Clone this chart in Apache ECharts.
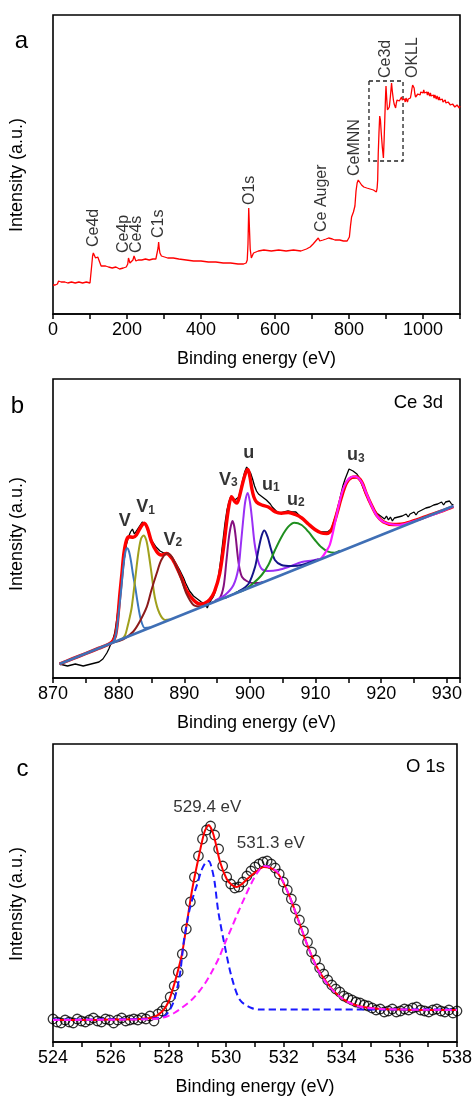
<!DOCTYPE html>
<html>
<head>
<meta charset="utf-8">
<script src="https://cdn.jsdelivr.net/npm/echarts@6.0.0/dist/echarts.min.js"></script>
<style>
  html, body { margin: 0; padding: 0; background: #fff; }
  #chart { width: 475px; height: 1101px; }
</style>
</head>
<body>
<div id="chart"></div>
<script>
// ---------- (a) survey spectrum: [binding energy (eV), intensity (a.u.)] ----------
const surveyPts = [
  [0,29],[3,30],[6,29],[9,28],[12,30],[15,33],[17,35],[19,34],[22,32],[26,31],[32,32],[40,31],
  [50,32],[60,31],[70,32],[80,31],[90,32],[100,31],[103,33],[105,50],[107,58],[109,61],[111,63],
  [113,59],[115,56],[117,55],[119,55],[121,57],[123,58],[125,55],[127,51],[130,48],[135,47],
  [142,48],[150,47],[160,46],[170,47],[180,45],[190,46],[198,47],[202,50],[204,56],[206,54],
  [208,51],[212,52],[216,54],[219,58],[221,56],[224,53],[230,54],[240,54],[250,55],[260,54],
  [270,55],[278,55],[282,57],[284,66],[285.5,72],[287,66],[289,61],[293,58],[298,57],[310,56],
  [325,56],[340,55],[360,54],[380,53],[400,53],[420,52],[440,52],[460,51],[480,51],[500,50],
  [515,50],[522,51],[525,54],[527,70],[529,106],[531,85],[533,65],[536,56],[539,58],[542,61],
  [546,63],[555,63],[570,64],[590,63],[610,64],[630,63],[650,64],[670,63],[685,65],[695,67],
  [703,70],[710,73],[717,76],[721,73],[725,72],[730,74],[738,75],[745,76],[750,77],[755,75],
  [762,74],[775,74],[785,73],[795,73],[801,77],[804,88],[807,97],[812,102],[816,108],[819,123],
  [822,131],[825,134],[828,132],[834,129],[840,127],[848,126],[857,125],[866,124],[874,122],
  [876,126],[877.5,134],[879,160],[881,181],[883,198],[885,194],[887,182],[890,167],[893,156],
  [895,175],[897,198],[899,220],[900,228],[902,215],[904,204],[906,205],[909,207],[912,218],
  [915,231],[917,223],[920,214],[922,210],[924,208],[926,206],[928,211],[930,214],[932,212],
  [934,216],[936,213],[938,215],[940,212],[942,217],[944,214],[946,216],[948,213],[950,215],
  [952,212],[954,216],[956,214],[958,212],[960,215],[962,213],[964,217],[966,216],[968,220],
  [970,225],[972,229],[974,230],[976,226],[978,220],[980,217],[982,219],[984,216],[986,220],
  [988,218],[990,221],[992,219],[994,222],[996,220],[998,223],[1000,221],[1002,224],[1004,221],
  [1006,223],[1008,220],[1010,222],[1012,219],[1014,222],[1016,220],[1018,218],[1020,221],
  [1022,218],[1024,220],[1026,217],[1028,219],[1030,216],[1032,219],[1034,217],[1036,215],
  [1038,218],[1040,216],[1042,214],[1044,217],[1046,214],[1048,216],[1050,213],[1052,215],
  [1054,212],[1056,214],[1058,211],[1060,214],[1062,211],[1064,213],[1066,210],[1068,212],
  [1070,210],[1072,212],[1074,209],[1076,211],[1078,208],[1080,210],[1082,208],[1084,210],
  [1086,207],[1088,209],[1090,207],[1092,209],[1094,207],[1096,208],[1098,206],[1100,208]
];
const surveyPeakNames = ['Ce4d', 'Ce4p', 'Ce4s', 'C1s', 'O1s', 'Ce Auger', 'CeMNN', 'Ce3d', 'OKLL'];
const surveyPeakE = [110.8, 192, 227, 286, 530, 727, 816, 900, 973];
const surveyPeakI = [67, 61, 61, 76, 109, 82, 138, 236, 236];
// Ce 3d window highlighted on the survey
const ce3dWindowE = [854, 946];
const ce3dWindowI = [153, 233];

// ---------- (b) Ce 3d high-resolution region ----------
const ce3dStartE = 871.0;
const ce3dStepE = 0.3;
const ce3dCounts = [
  14,15,13,14,12,14,13,11,14,12,
  13,15,12,14,13,15,14,16,15,17,
  16,18,19,22,25,29,34,38,45,58,
  74,90,106,121,134,141,146,149,144,147,
  149,153,156,154,152,146,141,137,134,131,
  129,127,128,125,126,124,123,121,119,115,
  113,108,106,100,95,91,87,85,82,80,
  79,77,76,75,74,70,75,78,81,86,
  94,106,121,138,155,168,176,182,183,178,
  176,181,189,198,206,211,210,205,199,192,
  187,184,183,181,180,178,177,174,171,169,
  167,166,165,164,166,165,167,166,166,165,
  166,164,162,160,158,157,155,153,151,150,
  148,147,146,144,146,144,146,146,149,155,
  161,168,176,185,193,199,204,209,211,207,
  206,204,201,196,191,186,182,177,174,170,
  168,165,164,162,161,159,162,158,161,157,
  160,158,161,159,162,160,164,161,164,162,
  166,163,166,165,168,166,170,168,171,169,
  173,171,174,172,176,173,176,174,177,174,
  173
];
const ce3dEnvelope = [
  [871,14],[873,19.3],[875,24.5],[877,29.8],[878.3,33.2],[879.0,36],[879.5,42],[879.8,55],[880.2,85],
  [880.5,104.7],[880.8,124.7],[881.2,138],[881.6,141.3],[882.2,140.7],[882.7,143],[883.4,151.3],
  [883.9,154.7],[884.4,149.7],[885.0,136.3],[885.8,126.3],[886.5,123],[887.3,124.5],[888.1,119.7],
  [888.8,111.3],[889.6,99.7],[890.3,88],[891.4,78],[892.4,74],[893.1,74.7],[893.9,78.7],[894.6,86.3],
  [895.4,104.7],[896.0,131.3],[896.7,168],[897.2,181.3],[897.7,176.3],[898.0,175],[898.3,179],
  [898.9,195],[899.4,206],[899.7,208.5],[900.0,201],[900.3,189],[900.6,181],[901.0,176],[901.8,173],
  [902.8,171],[903.8,166.3],[904.8,164.7],[905.85,165.5],[906.9,163.5],[907.9,160],[908.9,154],
  [909.9,148.5],[910.9,145],[911.7,144.5],[912.4,148],[913.2,163.5],[913.9,180],[914.7,195],
  [915.5,200.5],[916.2,201],[917.0,196.3],[917.7,184.7],[918.5,173],[919.3,163],[920.3,156.3],
  [921.8,153.5],[923.3,154],[925.3,158],[927.4,163],[929.4,167.3],[931,171.5]
];
const ce3dBackground = [[871,14],[931,172]];
const ce3dV = [[878.5,33.7],[879.2,36.5],[879.6,44],[880.0,65],[880.35,86],[880.7,110],[881.0,125],
  [881.3,129.7],[881.6,126],[881.9,116],[882.2,103],[882.5,92],[882.9,75],[883.4,58],[884.0,50],[884.8,50.5]];
const ce3dV1 = [[880.0,37.7],[880.6,39.5],[881.0,43],[881.3,50],[881.7,61],[882.0,71],[882.5,98],
  [883.0,125],[883.4,139],[883.8,142.5],[884.2,138],[884.5,128],[885.0,105],[885.5,81],[886.2,65],
  [887.1,58],[887.8,58.5]];
const ce3dV2 = [[879.0,35.3],[880.7,38.7],[882.2,46.3],[883.2,56.3],[884.3,71.3],[885.0,88],[885.8,104.7],
  [886.5,118],[887.4,124.7],[888.1,121.3],[888.8,111.3],[889.6,98],[890.3,84.7],[891.4,73],[892.6,71.5],[893.5,73.5]];
const ce3dV3 = [[894.0,74.8],[895.4,80],[896.0,92],[896.4,116],[896.75,138],[897.0,149],[897.33,157],
  [897.6,152],[897.85,140],[898.1,124],[898.4,110],[898.8,101],[899.5,97],[900.3,95],[901.3,95],[902.0,96]];
const ce3dU = [[894.7,77.5],[896.2,83],[897.5,93],[898.25,110],[898.6,132],[899.0,160],[899.3,177],
  [899.66,185],[900.0,176],[900.3,160],[900.7,135],[901.2,118],[901.8,109],[902.8,107],[904.3,108],
  [905.85,111],[907.9,116],[909.5,117.5],[910.5,119]];
const ce3dU1 = [[896.2,80],[898.25,86.5],[899.77,94],[900.78,111],[901.29,128],[901.79,142.5],[902.2,147.5],
  [902.7,141],[903.2,129],[903.8,118],[904.8,113],[906.35,112],[907.9,113],[909.4,116.3],[910.5,118.5]];
const ce3dU2 = [[897.74,85],[899.26,88.5],[900.5,94.7],[901.79,103],[902.8,113],[903.82,128],[904.83,141.3],
  [905.85,151.3],[906.76,155.3],[907.87,153],[908.9,146.3],[909.9,138],[910.9,130.7],[911.9,126.3],
  [912.9,125.3],[913.7,127.5]];
const ce3dU3 = [[910.0,117],[910.9,120],[911.65,127],[912.16,133],[912.66,146],[913.17,162],[913.68,177],
  [914.2,189],[914.7,196],[915.2,200],[915.8,201.5],[916.2,201.3],[916.97,196.3],[917.73,184.7],
  [918.49,173],[919.25,163],[920.26,156.3],[921.28,154],[922.8,153],[925.33,157.5],[928.4,164.5],[931,171.8]];
const ce3dPeakNames = ['V', 'V1', 'V2', 'V3', 'u', 'u1', 'u2', 'u3'];
const ce3dPeakLabelE = [880.0, 882.67, 886.83, 895.3, 899.0, 901.85, 905.66, 914.8];
const ce3dPeakLabelI = [148, 161.5, 129, 189, 216, 184, 169, 213.5];

// ---------- (c) O 1s high-resolution region ----------
const o1sStartE = 524.0;
const o1sStepE = 0.14;
const o1sCounts = [
  23,20,19,22,20,19,23,21,20,22,
  24,21,20,23,22,19,22,24,21,22,
  23,22,24,23,26,21,28,31,36,45,
  56,70,88,113,140,165,186,203,212,216,
  207,193,176,165,158,154,155,160,166,171,
  175,178,180,181,178,174,168,160,152,143,
  133,122,111,100,90,82,74,68,62,57,
  53,50,46,44,42,40,39,37,36,34,
  32,33,30,31,33,30,31,33,32,34,
  35,32,31,30,32,33,31,30,32,29,
  31
];
const o1sEnvelope = [[524,22],[525,22],[526,22.5],[527,23],[527.5,25],[527.8,31],[528.0,40],[528.13,51],
  [528.3,68],[528.47,88],[528.64,119],[528.82,152],[529.05,185],[529.25,210],[529.4,217],[529.52,211],
  [529.62,201],[529.79,180],[530.02,163],[530.2,157],[530.36,155],[530.55,158],[530.77,164],[531.11,172],
  [531.3,175],[531.5,174.5],[531.81,168],[532.15,149],[532.5,122],[532.84,95],[533.18,73],[533.53,58],
  [533.87,47],[534.22,40],[534.67,35.5],[535.36,33],[536,32.5],[537,32],[538,32]];
const o1sLattice = [[524,22.5],[527,23],[527.8,25],[528.0,30],[528.2,42],[528.4,68],[528.53,100],
  [528.7,128],[528.82,142],[529.0,158],[529.15,172],[529.3,180],[529.4,181],[529.5,174],[529.6,160],
  [529.73,130],[529.96,95],[530.19,65],[530.48,42],[530.88,34],[531.2,32.5],[532,32.5],[538,32.5]];
const o1sSurface = [[524,22],[527,22.5],[527.5,23],[527.9,25],[528.2,29],[528.5,35],[528.8,42],[529.05,50],
  [529.3,60],[529.5,70],[529.75,84],[529.96,99],[530.2,115],[530.42,130],[530.65,145],[530.88,159],
  [531.1,170],[531.3,176],[531.5,175],[531.81,169],[532.15,149],[532.5,122],[532.84,95],[533.18,72],
  [533.53,57],[533.87,47],[534.22,40],[534.67,35],[535.36,33],[536,32.5],[538,32]];
const o1sPeakE = [529.4, 531.3];
const o1sPeakLabelE = [529.35, 531.55];
const o1sPeakLabelI = [234.5, 198.7];

// ---------- drawing ----------
const FONT = "'Liberation Sans', Arial, Helvetica, sans-serif";
const NARROW = "'Liberation Sans Narrow', 'Arial Narrow', 'Liberation Sans', Arial, sans-serif";
const panels = [
  { top: 15,  height: 299, xMin: 0,   xMax: 1100, step: 100, labelEvery: 200 },
  { top: 379, height: 299, xMin: 870, xMax: 932,  step: 5,   labelEvery: 10 },
  { top: 744, height: 298, xMin: 524, xMax: 538,  step: 1,   labelEvery: 2 }
];

const grids = panels.map(p => ({
  left: 53, width: 407, top: p.top, height: p.height,
  show: true, borderColor: '#000', borderWidth: 1.6, backgroundColor: 'transparent'
}));

const xAxes = panels.map((p, i) => ({
  type: 'value', gridIndex: i, min: p.xMin, max: p.xMax, interval: p.step,
  name: 'Binding energy (eV)', nameLocation: 'middle', nameGap: 36,
  nameTextStyle: { fontFamily: FONT, fontSize: 18, color: '#000' },
  axisLine: { show: true, onZero: false, lineStyle: { color: '#000', width: 1.6 } },
  axisTick: { show: true, inside: false, length: 5, lineStyle: { color: '#000', width: 1.5 } },
  axisLabel: {
    show: true, interval: 0, margin: 7, fontFamily: FONT, fontSize: 18, color: '#000',
    showMinLabel: true, showMaxLabel: true,
    formatter: v => {
      const k = v / p.labelEvery;
      return Math.abs(k - Math.round(k)) < 1e-6 ? String(Math.round(v)) : '';
    }
  },
  splitLine: { show: false }
}));

const yAxes = panels.map((p, i) => ({
  type: 'value', gridIndex: i, min: 0, max: p.height, show: false
}));

const ce3dE = ce3dCounts.map((_, i) => +(ce3dStartE + i * ce3dStepE).toFixed(2));
const o1sE = o1sCounts.map((_, i) => +(o1sStartE + i * o1sStepE).toFixed(2));

function curve(idx, data, color, width, extra) {
  return Object.assign({
    type: 'line', xAxisIndex: idx, yAxisIndex: idx, data: data,
    showSymbol: false, symbol: 'none', smooth: 0.3,
    lineStyle: { color: color, width: width }, silent: true
  }, extra || {});
}

const series = [
  // (a) survey
  {
    type: 'line', xAxisIndex: 0, yAxisIndex: 0, data: surveyPts,
    showSymbol: false, symbol: 'none', lineStyle: { color: '#ff0000', width: 1.3 }, silent: true,
    markArea: {
      silent: true,
      itemStyle: { color: 'rgba(0,0,0,0)', borderColor: '#222', borderWidth: 1.3, borderType: [4, 3] },
      data: [[{ coord: [ce3dWindowE[0], ce3dWindowI[1]] }, { coord: [ce3dWindowE[1], ce3dWindowI[0]] }]]
    }
  },
  {
    type: 'scatter', xAxisIndex: 0, yAxisIndex: 0, symbolSize: 0, silent: true,
    itemStyle: { color: 'transparent' },
    data: surveyPeakNames.map((n, i) => ({ name: n, value: [surveyPeakE[i], surveyPeakI[i]] })),
    label: {
      show: true, position: 'inside', rotate: 90, align: 'left', verticalAlign: 'middle',
      formatter: p => p.name, fontFamily: FONT, fontSize: 16, color: '#000'
    }
  },
  // (b) Ce 3d
  {
    type: 'line', xAxisIndex: 1, yAxisIndex: 1, data: ce3dE.map((e, i) => [e, ce3dCounts[i]]),
    showSymbol: false, symbol: 'none', lineStyle: { color: '#000', width: 1.3 }, silent: true
  },
  curve(1, ce3dEnvelope, '#ff0000', 3.4),
  curve(1, ce3dV, '#3a76bf', 2),
  curve(1, ce3dV1, '#a0a01c', 2),
  curve(1, ce3dV2, '#8c1a1a', 2),
  curve(1, ce3dV3, '#85107f', 2),
  curve(1, ce3dU, '#9a2ff5', 2),
  curve(1, ce3dU1, '#14148a', 2),
  curve(1, ce3dU2, '#1f8f1f', 2),
  curve(1, ce3dU3, '#ff1aff', 2.2),
  curve(1, ce3dBackground, '#3f6fb5', 2.6, { smooth: false }),
  {
    type: 'scatter', xAxisIndex: 1, yAxisIndex: 1, symbolSize: 0, silent: true,
    itemStyle: { color: 'transparent' },
    data: ce3dPeakNames.map((n, i) => ({ name: n, value: [ce3dPeakLabelE[i], ce3dPeakLabelI[i]] })),
    label: {
      show: true, position: 'inside', align: 'left', verticalAlign: 'bottom',
      formatter: p => '{m|' + p.name[0] + '}' + (p.name.length > 1 ? '{s|' + p.name.slice(1) + '}' : ''),
      rich: {
        m: { fontFamily: FONT, fontSize: 18, fontWeight: 'bold', color: '#000', verticalAlign: 'bottom' },
        s: { fontFamily: FONT, fontSize: 12, fontWeight: 'bold', color: '#000', verticalAlign: 'bottom' }
      }
    }
  },
  // (c) O 1s
  {
    type: 'scatter', xAxisIndex: 2, yAxisIndex: 2, silent: true,
    data: o1sE.map((e, i) => [e, o1sCounts[i]]),
    symbol: 'circle', symbolSize: 9.5,
    itemStyle: { color: 'rgba(255,255,255,0)', borderColor: '#000', borderWidth: 1.3 }
  },
  curve(2, o1sEnvelope, '#ff0000', 2),
  curve(2, o1sLattice, '#1a1aff', 2, { lineStyle: { color: '#1a1aff', width: 2, type: [7, 4] } }),
  curve(2, o1sSurface, '#ff1aff', 2, { lineStyle: { color: '#ff1aff', width: 2, type: [7, 4] } }),
  {
    type: 'scatter', xAxisIndex: 2, yAxisIndex: 2, symbolSize: 0, silent: true,
    itemStyle: { color: 'transparent' },
    data: o1sPeakE.map((e, i) => ({ name: e.toFixed(1) + ' eV', value: [o1sPeakLabelE[i], o1sPeakLabelI[i]] })),
    label: {
      show: true, position: 'inside', align: 'center', verticalAlign: 'middle',
      formatter: p => p.name, fontFamily: NARROW, fontSize: 17, color: '#000'
    }
  }
];

function txt(x, y, text, size, align, rotation) {
  return {
    type: 'text', x: x, y: y, rotation: rotation || 0, silent: true,
    style: {
      text: text, fill: '#000', font: size + 'px ' + FONT,
      textAlign: align, textVerticalAlign: 'middle', align: align, verticalAlign: 'middle'
    }
  };
}

const graphic = [
  txt(21.5, 41.7, 'a', 24, 'center'),
  txt(17.5, 406.7, 'b', 24, 'center'),
  txt(22.5, 769.7, 'c', 24, 'center'),
  txt(17, 175, 'Intensity (a.u.)', 18, 'center', Math.PI / 2),
  txt(17, 534, 'Intensity (a.u.)', 18, 'center', Math.PI / 2),
  txt(17, 904, 'Intensity (a.u.)', 18, 'center', Math.PI / 2),
  txt(443, 402.6, 'Ce 3d', 18.5, 'right'),
  txt(445, 766.6, 'O 1s', 18.5, 'right')
];

const chart = echarts.init(document.getElementById('chart'), null, { renderer: 'canvas' });
chart.setOption({
  animation: false,
  backgroundColor: '#fff',
  textStyle: { fontFamily: FONT },
  grid: grids,
  xAxis: xAxes,
  yAxis: yAxes,
  series: series,
  graphic: graphic
});
</script>
</body>
</html>
